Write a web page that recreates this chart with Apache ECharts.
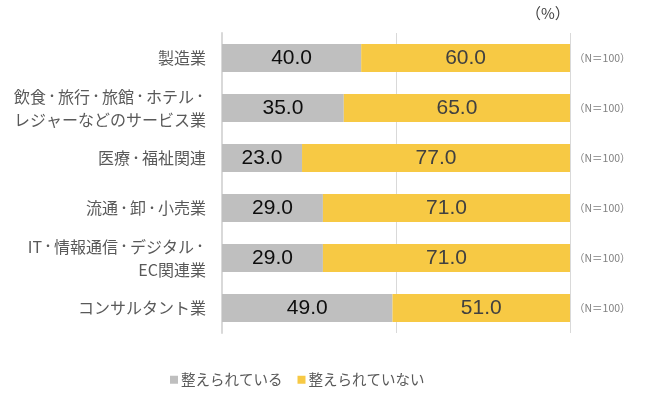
<!DOCTYPE html>
<html><head><meta charset="utf-8">
<script src="https://cdn.jsdelivr.net/npm/echarts@6/dist/echarts.min.js"></script>
<style>html,body{margin:0;padding:0;background:#fff}#c{width:650px;height:404px}</style>
</head><body><div id="c"></div>
<script>
const categories = ['製造業','飲食・旅行・旅館・ホテル・\nレジャーなどのサービス業','医療・福祉関連','流通・卸・小売業','IT・情報通信・デジタル・\nEC関連業','コンサルタント業'];
const seriesNames = ['整えられている','整えられていない'];
const prepared = [40.0, 35.0, 23.0, 29.0, 29.0, 49.0];
const notPrepared = [60.0, 65.0, 77.0, 71.0, 71.0, 51.0];
const sampleLabels = ['（N＝100）','（N＝100）','（N＝100）','（N＝100）','（N＝100）','（N＝100）'];
const xTicks = [0, 50, 100];

const jp = '"Noto Sans CJK JP", "Noto Sans", sans-serif';
const num = '"Liberation Sans", Arial, sans-serif';
const chart = echarts.init(document.getElementById('c'));
chart.setOption({
  animation: false,
  grid: {left: 222, right: 80, top: 33, bottom: 71, containLabel: false},
  legend: {
    data: seriesNames, bottom: 12, left: 165, icon: 'rect', itemWidth: 8, itemHeight: 8, itemGap: 15,
    textStyle: {fontFamily: jp, fontSize: 14.5, color: '#595959', padding: [0, 0, 0, -2]}
  },
  graphic: [{type: 'text', left: 526, top: 6, style: {text: '（%）', fontFamily: jp, fontSize: 15, fill: '#404040'}}],
  xAxis: {
    type: 'value', min: xTicks[0], max: xTicks[xTicks.length-1], interval: 50,
    axisLabel: {show: false}, axisLine: {show: false}, axisTick: {show: false},
    splitLine: {show: true, lineStyle: {color: '#d9d9d9', width: 1}}
  },
  yAxis: [{
    type: 'category', data: categories, inverse: true,
    axisLine: {show: true, lineStyle: {color: '#d9d9d9', width: 2}}, axisTick: {show: false},
    axisLabel: {
      fontFamily: jp, fontSize: 16, color: '#595959', margin: 16, lineHeight: 23, align: 'right',
      formatter: v => v.split('・').join('{d|・}'),
      rich: {d: {fontFamily: jp, fontSize: 12, color: '#595959', lineHeight: 23}}
    }
  },{
    type: 'category', data: sampleLabels, inverse: true, position: 'right',
    axisLine: {show: false}, axisTick: {show: false},
    axisLabel: {fontFamily: jp, fontSize: 10.5, color: '#808080', margin: 4, align: 'left'}
  }],
  series: [{
    name: seriesNames[0], type: 'bar', stack: 'a', data: prepared, barCategoryGap: '44%',
    itemStyle: {color: '#bfbfbf'},
    label: {show: true, position: 'inside', formatter: p => p.value.toFixed(1), fontFamily: num, fontSize: 21, color: '#0d0d0d'}
  },{
    name: seriesNames[1], type: 'bar', stack: 'a', data: notPrepared, barCategoryGap: '44%',
    itemStyle: {color: '#f7c944'},
    label: {show: true, position: 'inside', formatter: p => p.value.toFixed(1), fontFamily: num, fontSize: 21, color: '#404040'}
  }]
});
</script></body></html>
